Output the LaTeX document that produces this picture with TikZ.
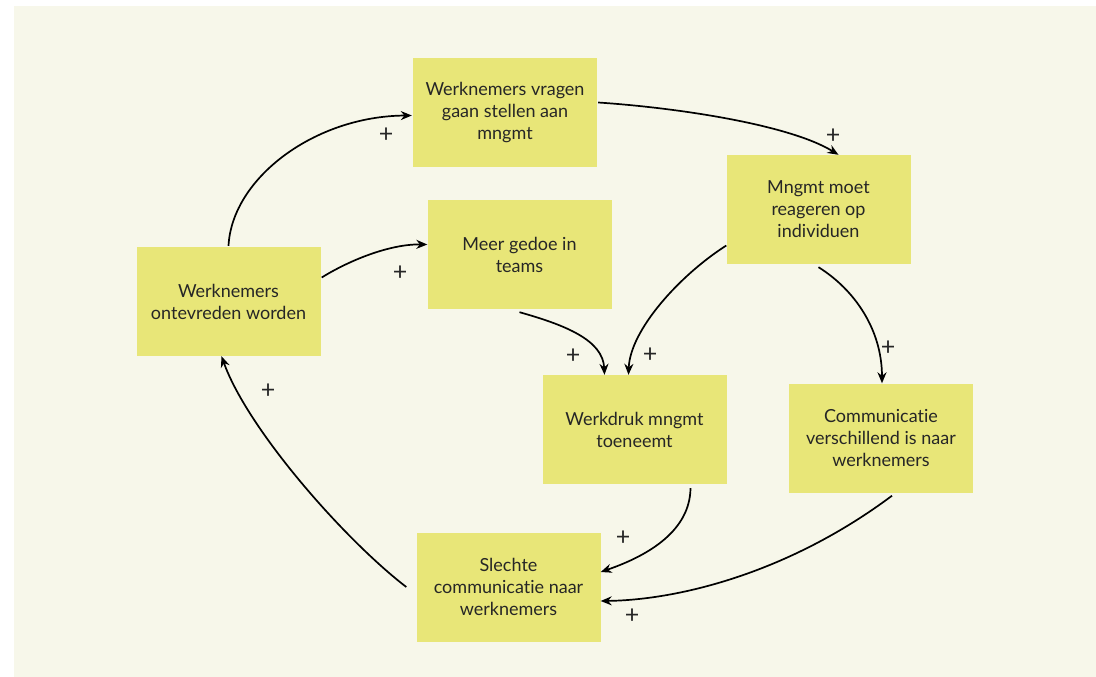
\documentclass[tikz,border=0pt]{standalone}
\usepackage{fontspec}
\setmainfont{Lato}[Ligatures={NoCommon,NoRare,NoContextual}]
\usetikzlibrary{arrows.meta}
\definecolor{panel}{HTML}{F7F7EA}
\definecolor{sticky}{HTML}{E8E678}
\definecolor{ink}{HTML}{262626}
\tikzset{
  note/.style={fill=sticky, draw=none, minimum width=184pt, minimum height=109pt,
    align=center, text=ink, font=\fontsize{18}{22}\selectfont, inner sep=0pt},
  link/.style={line width=1.7pt, -{Stealth[length=11pt,width=9pt]}},
  sign/.style={text=ink, font=\fontsize{25}{25}\selectfont, inner sep=0pt}
}
\begin{document}
\begin{tikzpicture}[x=1pt,y=-1pt]
\useasboundingbox (0,0) rectangle (1096,677);
\fill[white] (0,0) rectangle (1096,677);
\fill[panel] (14,6) rectangle (1096,677);

% sticky notes
\node[note] (vra) at (505,112.5) {Werknemers vragen\\gaan stellen aan\\mngmt};
\node[note] (rea) at (818.5,209.5) {Mngmt moet\\reageren op\\individuen};
\node[note] (ged) at (519.5,254.5) {Meer gedoe in\\teams};
\node[note] (ont) at (228.5,301.5) {Werknemers\\ontevreden worden};
\node[note] (wdr) at (634.5,429.5) {Werkdruk mngmt\\toeneemt};
\node[note] (com) at (881,438) {Communicatie\\verschillend is naar\\werknemers};
\node[note] (sle) at (508.5,587) {Slechte\\communicatie naar\\werknemers};

% polarity signs
\node[sign] (pA) at (386,135) {+};
\node[sign] (pB) at (400,273) {+};
\node[sign] (pC) at (833,136) {+};
\node[sign] (pD) at (573,356) {+};
\node[sign] (pE) at (650,355) {+};
\node[sign] (pF) at (888,348) {+};
\node[sign] (pG) at (623,538) {+};
\node[sign] (pH) at (632,616) {+};
\node[sign] (pI) at (268,391) {+};

% causal links
\draw[link] ([yshift=1pt]ont.north) .. controls (232,178) and (315,116) .. ([xshift=-1pt,yshift=-3pt]vra.west);
\draw[link] ([xshift=1pt,yshift=24pt]ont.east) .. controls (350,260) and (390,244) .. ([yshift=10pt]ged.west);
\draw[link] ([xshift=1pt,yshift=10pt]vra.east) .. controls (680,108) and (790,125) .. ([xshift=20pt]rea.north);
\draw[link] ([yshift=-3pt]ged.south) .. controls (565,325) and (603,340) .. ([xshift=-30pt]wdr.north);
\draw[link] ([yshift=-36pt]rea.west) .. controls (680,275) and (630,330) .. ([xshift=-6pt]wdr.north);
\draw[link] ([yshift=-3pt]rea.south) .. controls (855,290) and (882,330) .. ([xshift=1pt]com.north);
\draw[link] ([xshift=56pt,yshift=-4pt]wdr.south) .. controls (690,530) and (650,555) .. ([yshift=15pt]sle.east);
\draw[link] ([xshift=11pt,yshift=-3pt]com.south) .. controls (790,572) and (680,600) .. ([yshift=-14pt]sle.east);
\draw[link] ([xshift=-10pt]sle.west) .. controls (345,540) and (248,430) .. ([xshift=-7pt]ont.south);
\end{tikzpicture}
\end{document}
